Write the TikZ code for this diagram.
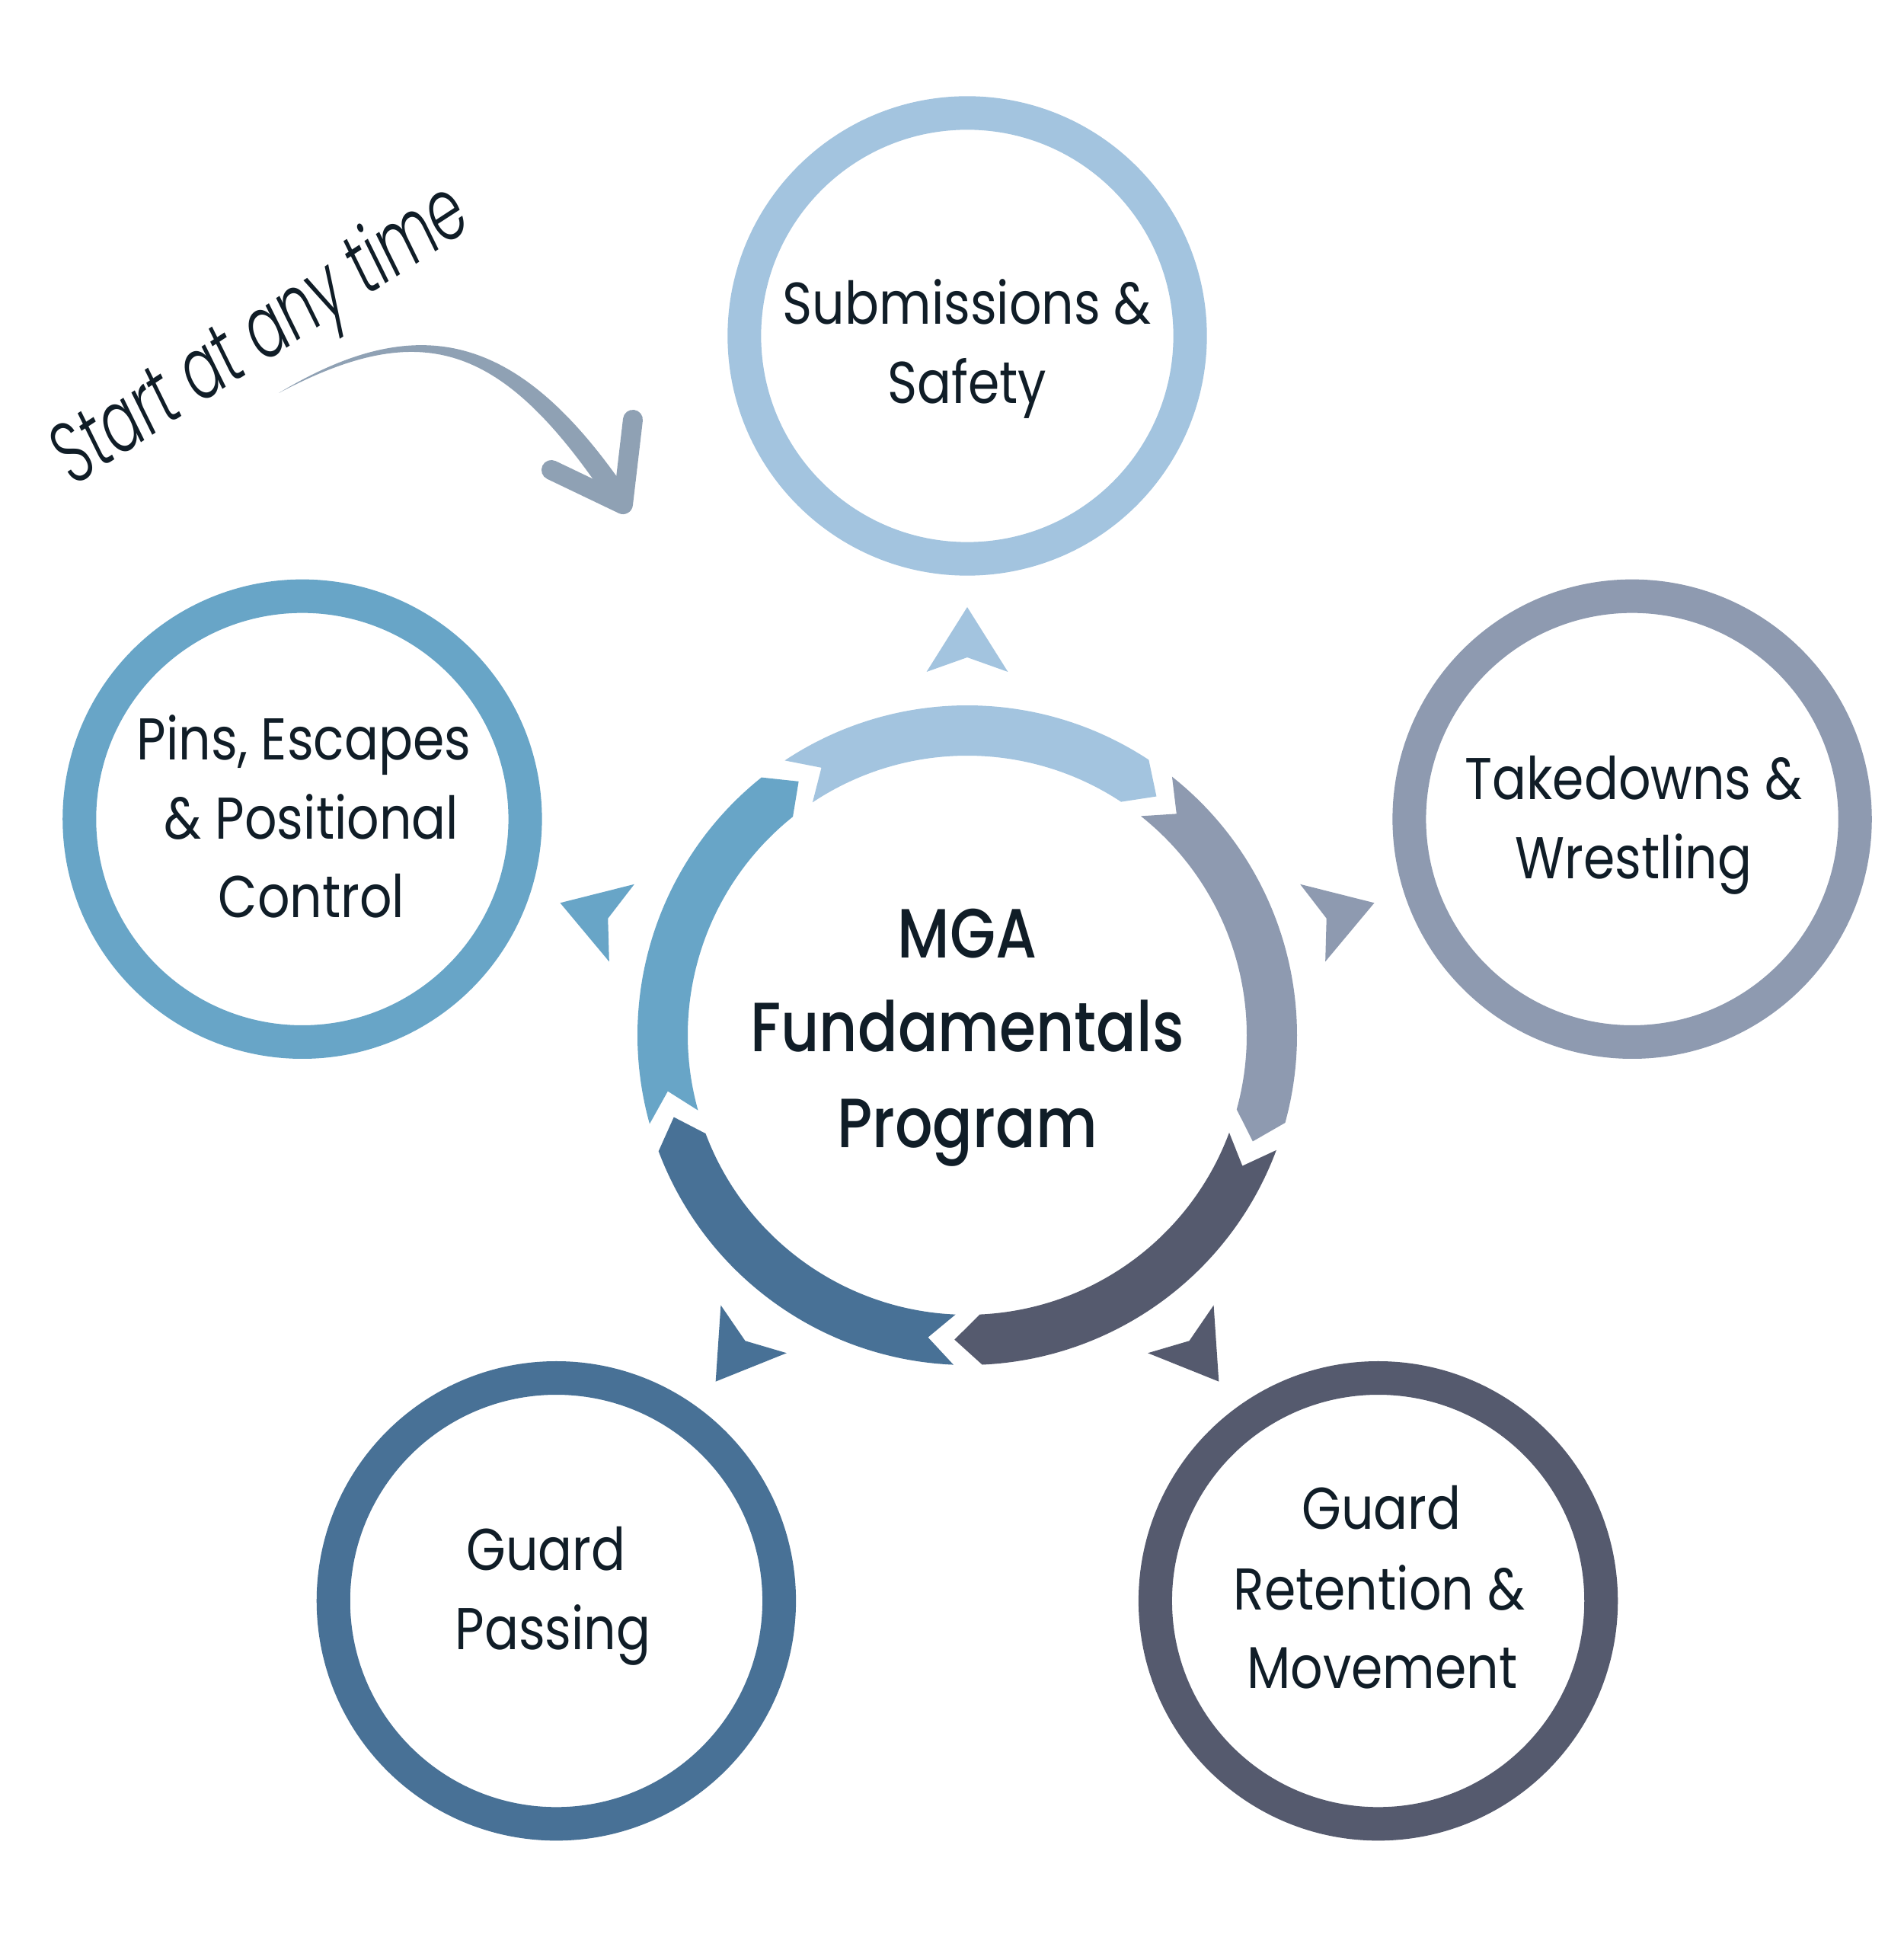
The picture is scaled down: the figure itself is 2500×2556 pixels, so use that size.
\documentclass[tikz,border=0pt]{standalone}
\usepackage{fontspec}
\setmainfont{Poppins}
\newfontfamily\labfont{Poppins}[FakeStretch=0.86]
\newfontfamily\titlefont{Poppins Medium}[FakeStretch=0.85]
\newfontfamily\handfont{Poppins Light Italic}[FakeStretch=0.67]
\definecolor{subC}{HTML}{A3C4DF}
\definecolor{takeC}{HTML}{8E9AB0}
\definecolor{grC}{HTML}{555A6E}
\definecolor{gpC}{HTML}{487196}
\definecolor{pinsC}{HTML}{68A5C7}
\definecolor{txt}{HTML}{101D27}
\definecolor{handC}{HTML}{8FA1B4}
\tikzset{
  ringnode/.style={circle, line width=0.44cm, minimum size=5.85cm, inner sep=0pt, fill=white},
  lab/.style={font=\labfont\fontsize{22}{26}\selectfont, text=txt, anchor=base, inner sep=0pt},
  ttl/.style={font=\titlefont\fontsize{26}{30}\selectfont, text=txt, anchor=base, inner sep=0pt},
  hand/.style={font=\handfont\fontsize{32}{34}\selectfont, text=txt, inner sep=0pt}
}
\begin{document}
\begin{tikzpicture}[x=0.01cm, y=0.01cm]
\useasboundingbox (0,0) rectangle (2500,2556);
\fill[white] (0,0) rectangle (2500,2556);
\coordinate (c) at (1270,1197);
% cycle ring segments
\foreach \t/\col in {123.6/subC, 51.6/takeC, -20.4/grC, -92.4/gpC, -164.4/pinsC}{
  \pgfmathsetmacro\h{\t-67}
  \fill[\col, shift={(c)}] (\t:433) arc[start angle=\t, end angle=\h, radius=433]
     -- ({\h-5}:400) -- (\h:367) arc[start angle=\h, end angle=\t, radius=367]
     -- ({\t-5}:400) -- cycle;
}
% small arrowheads toward topics
\foreach \a/\col in {90/subC, 18/takeC, -54/grC, -126/gpC, 162/pinsC}{
  \fill[\col, shift={(c)}, rotate=\a] (562,0) -- (477,53.4) -- (496,0) -- (477,-53.4) -- cycle;
}
% topic circles
\node[ringnode, draw=subC]  (sub)  at ([shift={(90:918)}]c) {};
\node[ringnode, draw=takeC] (take) at ([shift={(18:918)}]c) {};
\node[ringnode, draw=grC]   (gr)   at ([shift={(-54:918)}]c) {};
\node[ringnode, draw=gpC]   (gp)   at ([shift={(-126:918)}]c) {};
\node[ringnode, draw=pinsC] (pins) at ([shift={(162:918)}]c) {};
% labels
\node[lab] (sub1) at (1270,2130) {Submissions \&};
\node[lab] (sub2) at (1270,2026) {Safety};
\node[lab] (take1) at (2145,1506) {Takedowns \&};
\node[lab] (take2) at (2145,1402) {Wrestling};
\node[lab] (pins1) at (399,1558) {Pins, Escapes};
\node[lab] (pins2) at (409,1454) {\& Positional};
\node[lab] (pins3) at (409,1351) {Control};
\node[lab] (gp1) at (717,494) {Guard};
\node[lab] (gp2) at (726,390) {Passing};
\node[lab] (gr1) at (1814,548) {Guard};
\node[lab] (gr2) at (1811,442) {Retention \&};
\node[lab] (gr3) at (1815,339) {Movement};
% title
\node[ttl] (t1) at (1270,1298) {MGA};
\node[ttl] (t2) at (1270,1175) {Fundamentals};
\node[ttl] (t3) at (1270,1049) {Program};
% start arrow
\coordinate (a0) at (366,2040);
\coordinate (tip) at (818,1894);
\fill[handC] (a0) .. controls (554.1,2153.2) and (685.8,2117.2) .. (829.6,1901.7)
   -- (806.4,1886.3) .. controls (664.2,2102.8) and (559.9,2142.8) .. (a0) -- cycle;
\coordinate (w1) at (724,1939);
\coordinate (w2) at (831,2005);
\draw[handC, line width=0.26cm, line cap=round, line join=round] (w1) -- (tip) -- (w2);
\node[hand, rotate=33] (start) at (345,2112) {Start at any time};
\end{tikzpicture}
\end{document}
